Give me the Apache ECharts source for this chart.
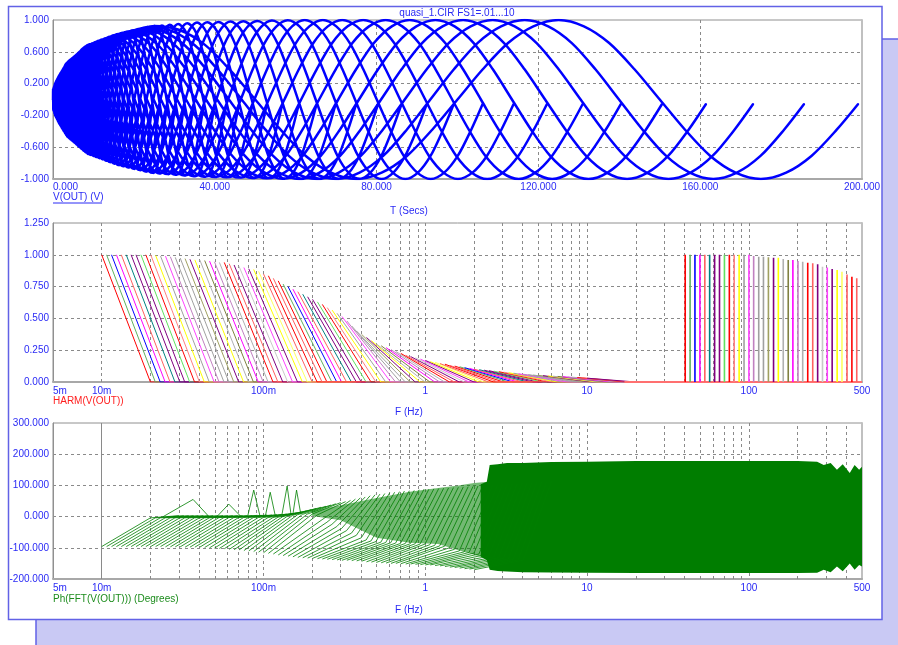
<!DOCTYPE html>
<html>
<head>
<meta charset="utf-8">
<script src="https://cdn.jsdelivr.net/npm/echarts@6/dist/echarts.min.js"></script>
<style>
  html, body { margin: 0; padding: 0; background: #fff; }
  #chart { width: 898px; height: 645px; }
</style>
</head>
<body>
<div id="chart"></div>
<script>
// FS1 stepping .01 ... 10, 33 steps per decade
const fs1Mantissa = [1.000, 1.072, 1.150, 1.233, 1.322, 1.418, 1.520, 1.630, 1.748, 1.874, 2.009,
  2.154, 2.310, 2.477, 2.656, 2.848, 3.054, 3.275, 3.511, 3.765, 4.037, 4.329, 4.642, 4.977,
  5.337, 5.722, 6.136, 6.579, 7.055, 7.565, 8.111, 8.697, 9.326];
const fs1Decades = [0.01, 0.1, 1];
const fs1Last = 10;

// top plot: one wave per step, sampled every 1/16 period, runs ~2 periods
const wavePhase = [0, 0.0625, 0.125, 0.1875, 0.25, 0.3125, 0.375, 0.4375, 0.5, 0.5625, 0.625, 0.6875,
  0.75, 0.8125, 0.875, 0.9375, 1, 1.0625, 1.125, 1.1875, 1.25, 1.3125, 1.375, 1.4375, 1.5, 1.5625,
  1.625, 1.6875, 1.75, 1.8125, 1.875, 1.9375, 1.99];
const waveShape = [0, 0.38, 0.71, 0.92, 1, 0.92, 0.71, 0.38, 0, -0.38, -0.71, -0.92, -1, -0.92, -0.71, -0.38,
  0, 0.38, 0.71, 0.92, 1, 0.92, 0.71, 0.38, 0, -0.38, -0.71, -0.92, -1, -0.92, -0.71, -0.38, -0.06];
// amplitude reached by the waves vs time (upper edge of the blue mass)
const envT = [0, 0.5, 1.5, 3.4, 8.4, 15.8, 24, 36, 60, 200];
const envA = [0.12, 0.2, 0.3, 0.46, 0.68, 0.82, 0.92, 0.97, 1, 1];

// HARM(V(OUT)): fundamental height of each step
const harmPeak = [
  1, 1, 1, 1, 1, 1, 1, 1, 1, 1,
  1, 0.995, 0.99, 0.99, 0.985, 0.98, 0.975, 0.97, 0.965, 0.96,
  0.96, 0.955, 0.95, 0.945, 0.94, 0.94, 0.93, 0.92, 0.91, 0.90,
  0.89, 0.885, 0.87, 0.85, 0.835, 0.815, 0.795, 0.77, 0.75, 0.73,
  0.71, 0.69, 0.67, 0.65, 0.63, 0.61, 0.585, 0.565, 0.54, 0.515,
  0.48, 0.44, 0.40, 0.375, 0.35, 0.325, 0.30, 0.285, 0.27, 0.255,
  0.24, 0.225, 0.21, 0.20, 0.19, 0.18, 0.17, 0.16, 0.155, 0.145,
  0.14, 0.13, 0.125, 0.12, 0.113, 0.107, 0.10, 0.097, 0.093, 0.089,
  0.085, 0.081, 0.077, 0.073, 0.069, 0.065, 0.061, 0.058, 0.055, 0.053,
  0.05, 0.048, 0.046, 0.044, 0.042, 0.04, 0.038, 0.035, 0.033, 0.03
];
const harmMultiples = [2, 3, 4];
const spikeFreq = [40.4, 43.3, 46.4, 49.8, 53.4, 57.2, 61.4, 65.8, 70.6, 75.7, 81.1, 87.0, 93.3,
  100, 107, 115, 123, 132, 142, 152, 163, 175, 187, 201, 215, 231, 248, 266, 285, 305, 327,
  351, 376, 404, 433, 464];
const spikeHeight = [1, 1, 1, 1, 1, 1, 1, 1, 1, 1, 1, 1, 1, 1, 0.99, 0.985, 0.985, 0.98,
  0.977, 0.977, 0.967, 0.959, 0.959, 0.951, 0.946, 0.938, 0.933, 0.925, 0.907, 0.901,
  0.888, 0.88, 0.867, 0.846, 0.828, 0.815];
const harmBaseF = [17, 500];

// Ph(FFT(V(OUT))): phase at f0, 2*f0, 3*f0 for the lower steps
const phaseFund = [
  -96, -96, -96, -96, -96, -96, -96, -96, -96, -96,
  -96, -96, -96, -97, -97, -97, -97, -98, -98, -98,
  -98, -99, -100, -101, -102, -103, -105, -106, -107, -109,
  -110, -112, -114, -116, -118, -120, -123, -125, -127, -129,
  -131, -132, -133, -134, -135, -136, -137, -138, -139, -140,
  -140, -141, -142, -143, -145, -146, -147, -148, -149, -150,
  -150, -151, -152, -152, -153, -154, -155, -155, -157, -158,
  -160, -162, -163, -165, -167, -168, -170
];
const phaseSecond = [
  -4, -4, -4, -4, -4, -4, -4, -4, -4, -4,
  -4, -4, -4, -3, -3, -3, -3, -3, -3, -3,
  -3, -3, -3, -3, -3, -3, -2, 0, 2, 4,
  6, 7, 8, 8, 5, -10, -18, -25, -32, -38,
  -45, -53, -60, -68, -75, -78, -80, -82, -83, -84,
  -85, -86, -86, -87, -87, -88, -88, -90, -92, -94,
  -95, -100, -105, -110, -113, -115, -117, -120, -123, -127,
  -130, -132, -134, -136, -137, -139, -140
];
const phaseThird = [
  3, 3, 3, 3, 3, 3, 3, 3, 3, 3,
  3, 3, 3, 3, 3, 3, 4, 4, 5, 5,
  6, 7, 8, 10, 12, 15, 18, 22, 26, 30,
  33, 37, 41, 45, 48, 52, 56, 60, 63, 67,
  70, 72, 74, 76, 78, 80, 82, 83, 84, 86,
  88, 88, 89, 90, 91, 92, 93, 94, 95, 96,
  97, 98, 99, 100, 101, 102, 103, 104, 105, 106,
  107, 108, 109, 110, 111, 112, 113
];
const phaseBumpF = [[0.024, 0.0367, 0.046], [0.052, 0.061, 0.072], [0.080, 0.087, 0.095],
  [0.103, 0.110, 0.118], [0.130, 0.140, 0.148], [0.152, 0.160, 0.170]];
const phaseBumpP = [[0, 55, 0], [2, 40, 2], [3, 85, 3], [5, 78, 5], [6, 98, 6], [8, 85, 8]];
// half-dense green zone between the hatching and the block
const midF = [0.2, 0.3, 0.5, 0.8, 1.2, 1.6, 2.0, 2.45];
const midTop = [18, 36, 60, 80, 92, 100, 108, 112];
const midBot = [2, -12, -68, -84, -88, -108, -122, -135];
// solid green block of the higher steps
const blockF = [2.2, 2.4, 2.5, 2.8, 3.2, 4, 6, 10, 20, 50, 100, 200, 264, 290, 320, 350, 380, 420, 450, 480, 500];
const blockTop = [104, 112, 165, 168, 172, 172, 175, 176, 178, 178, 178, 178, 176, 165, 172, 150, 168, 140, 165, 150, 160];
const blockBot = [-128, -140, -170, -174, -176, -178, -179, -180, -181, -181, -181, -181, -180, -170, -178, -160, -175, -150, -170, -155, -160];

// ticks
const voltTicks = [-1, -0.6, -0.2, 0.2, 0.6, 1];
const voltGrid = [-0.6, -0.2, 0.2, 0.6];
const freqTickValues = [0.005, 0.01, 0.1, 1, 10, 100, 500];
const freqTickLabels = ['5m', '10m', '100m', '1', '10', '100', '500'];
const logMinorTicks = [0.006, 0.007, 0.008, 0.009,
  0.02, 0.03, 0.04, 0.05, 0.06, 0.07, 0.08, 0.09,
  0.2, 0.3, 0.4, 0.5, 0.6, 0.7, 0.8, 0.9,
  2, 3, 4, 5, 6, 7, 8, 9,
  20, 30, 40, 50, 60, 70, 80, 90,
  200, 300, 400];

const stepColors = ['#ff0000', '#60b060', '#0000ff', '#ff00ff', '#ff6060', '#008080', '#800080', '#800080',
  '#60e060', '#ff0000', '#ff8080', '#ffff00', '#a0a0a0', '#ff40ff', '#c080c0', '#a0a0a0', '#a0a0a0',
  '#a0a060', '#800080', '#ffff00', '#b0b0b0', '#808040', '#ff00ff', '#c080c0', '#b0b0b0', '#ff0000',
  '#ff6060', '#800080', '#c8c8c8', '#ff40ff', '#800080', '#ffff00', '#ffff60', '#ff6060', '#ff0000', '#ff6060'];

const FONT = '"Liberation Sans", Arial, sans-serif';
const LABEL = '#2a2af5';
const GRID = '#8a8a8a';

const stepFreq = [];
fs1Decades.forEach((d) => fs1Mantissa.forEach((m) => stepFreq.push(d * m)));
stepFreq.push(fs1Last);

function lookup(xs, ys, x) {
  for (let i = 1; i < xs.length; i++) {
    if (x <= xs[i]) {
      const u = (x - xs[i - 1]) / (xs[i] - xs[i - 1]);
      return ys[i - 1] + u * (ys[i] - ys[i - 1]);
    }
  }
  return ys[ys.length - 1];
}

// --- series data ---
const waveData = [];
stepFreq.forEach((f) => {
  const period = 1 / f;
  wavePhase.forEach((ph, i) => {
    const t = ph * period;
    waveData.push([t, waveShape[i] * lookup(envT, envA, t)]);
  });
  waveData.push([0, '-']);
});

const harmByColor = stepColors.map(() => []);
stepFreq.forEach((f, k) => {
  const d = harmByColor[k % stepColors.length];
  d.push([f, harmPeak[k]]);
  harmMultiples.forEach((m) => d.push([f * m, 0]));
  d.push([f, '-']);
});
const spikeByColor = stepColors.map(() => []);
spikeFreq.forEach((f, s) => {
  const d = spikeByColor[s % stepColors.length];
  d.push([f, 0], [f, spikeHeight[s]], [f, '-']);
});

const phaseData = [];
phaseFund.forEach((a, k) => {
  const f = stepFreq[k];
  phaseData.push([f, a], [2 * f, phaseSecond[k]], [3 * f, phaseThird[k]], [f, '-']);
});
const bumpData = [];
phaseBumpF.forEach((fs, i) => {
  fs.forEach((f, j) => bumpData.push([f, phaseBumpP[i][j]]));
  bumpData.push([fs[0], '-']);
});

function freqLabel(v) {
  for (let i = 0; i < freqTickValues.length; i++) {
    if (Math.abs(Math.log10(v) - Math.log10(freqTickValues[i])) < 0.01) return freqTickLabels[i];
  }
  return '';
}

const axisLabelBase = { color: LABEL, fontSize: 10, fontFamily: FONT, hideOverlap: false };
const dashed = { color: GRID, type: [3, 3], width: 1 };

function xLog(gridIndex) {
  return {
    type: 'log', logBase: 10, gridIndex, min: 0.005, max: 500, splitNumber: 5,
    axisLine: { show: true, onZero: false, lineStyle: { color: '#a8a8a8', width: 2 } },
    axisTick: { show: false },
    axisLabel: Object.assign({}, axisLabelBase, {
      margin: 4, customValues: freqTickValues, formatter: freqLabel,
      alignMinLabel: 'left', showMinLabel: true, showMaxLabel: true
    }),
    splitLine: { show: true, showMinLine: false, showMaxLine: false, lineStyle: dashed }
  };
}
function yLeft(gridIndex, min, max, extra) {
  return Object.assign({
    type: 'value', gridIndex, min, max, position: 'left',
    axisLine: { show: true, onZero: false, lineStyle: { color: '#909090', width: 1 } },
    axisTick: { show: false },
    axisLabel: Object.assign({}, axisLabelBase, { margin: 4, formatter: (v) => v.toFixed(3) }),
    splitLine: { show: true, showMinLine: false, showMaxLine: false, lineStyle: dashed }
  }, extra || {});
}
function yRight(gridIndex, min, max) {
  return {
    type: 'value', gridIndex, min, max, position: 'right',
    axisLine: { show: true, onZero: false, lineStyle: { color: '#c0c0c0', width: 2 } },
    axisTick: { show: false }, axisLabel: { show: false }, splitLine: { show: false }
  };
}
function gridLines(xAxisIndex, yAxisIndex, key, values) {
  return {
    type: 'line', xAxisIndex, yAxisIndex, data: [], silent: true, z: 1,
    markLine: {
      silent: true, symbol: 'none', z: 1, animation: false,
      label: { show: false },
      emphasis: { disabled: true },
      lineStyle: dashed,
      data: values.map((v) => ({ [key]: v }))
    }
  };
}
function band(xs, tops, bots, color, opacity, z) {
  return {
    type: 'custom', xAxisIndex: 2, yAxisIndex: 4, coordinateSystem: 'cartesian2d', silent: true, z,
    data: [[xs[0], 0]],
    renderItem: (params, api) => {
      const top = xs.map((f, i) => api.coord([f, tops[i]]));
      const bot = xs.map((f, i) => api.coord([f, bots[i]])).reverse();
      return { type: 'polygon', shape: { points: top.concat(bot) }, style: { fill: color, opacity } };
    }
  };
}

const series = [
  gridLines(0, 0, 'yAxis', voltGrid),
  gridLines(1, 2, 'xAxis', logMinorTicks),
  gridLines(2, 4, 'xAxis', logMinorTicks),
  {
    type: 'line', xAxisIndex: 0, yAxisIndex: 0, data: waveData, smooth: 0.3,
    showSymbol: false, silent: true, connectNulls: false,
    lineStyle: { color: '#0000ff', width: 2.5, join: 'round', cap: 'round' }
  }
];
stepColors.forEach((c, i) => {
  series.push({
    type: 'line', xAxisIndex: 1, yAxisIndex: 2, data: harmByColor[i], showSymbol: false, silent: true,
    lineStyle: { color: c, width: 1 }
  });
});
series.push({
  type: 'line', xAxisIndex: 1, yAxisIndex: 2, data: harmBaseF.map((f) => [f, 0]), showSymbol: false, silent: true,
  lineStyle: { color: '#ff7070', width: 2 }
});
stepColors.forEach((c, i) => {
  if (!spikeByColor[i].length) return;
  series.push({
    type: 'line', xAxisIndex: 1, yAxisIndex: 2, data: spikeByColor[i], showSymbol: false, silent: true,
    lineStyle: { color: c, width: 1.6 }
  });
});
series.push(band(midF, midTop, midBot, '#008000', 0.55, 2));
series.push({
  type: 'line', xAxisIndex: 2, yAxisIndex: 4, data: phaseData, showSymbol: false, silent: true,
  lineStyle: { color: '#008000', width: 1, opacity: 0.8 }
});
series.push({
  type: 'line', xAxisIndex: 2, yAxisIndex: 4, data: bumpData, showSymbol: false, silent: true,
  lineStyle: { color: '#008000', width: 1, opacity: 0.8 }
});
series.push(band(blockF, blockTop, blockBot, '#007d00', 1, 3));

function txt(text, x, y, color, align) {
  return {
    type: 'text', z: 50, silent: true,
    style: {
      text, x, y, fill: color, font: '10px ' + FONT,
      align: align, textAlign: align, verticalAlign: 'middle', textVerticalAlign: 'middle'
    }
  };
}

const gridBase = { left: 53, width: 809, show: true, borderColor: '#909090', borderWidth: 1, backgroundColor: 'transparent', containLabel: false };

const option = {
  animation: false,
  backgroundColor: '#ffffff',
  grid: [
    Object.assign({ top: 20, height: 159 }, gridBase),
    Object.assign({ top: 223, height: 159 }, gridBase),
    Object.assign({ top: 423, height: 156 }, gridBase)
  ],
  xAxis: [
    {
      type: 'value', gridIndex: 0, min: 0, max: 200, interval: 40,
      axisLine: { show: true, onZero: false, lineStyle: { color: '#a8a8a8', width: 2 } },
      axisTick: { show: false },
      axisLabel: Object.assign({}, axisLabelBase, {
        margin: 3, formatter: (v) => v.toFixed(3), alignMinLabel: 'left', showMinLabel: true, showMaxLabel: true
      }),
      splitLine: { show: true, showMinLine: false, showMaxLine: false, lineStyle: dashed }
    },
    xLog(1),
    xLog(2)
  ],
  yAxis: [
    yLeft(0, -1, 1, {
      axisLabel: Object.assign({}, axisLabelBase, { margin: 4, customValues: voltTicks, formatter: (v) => v.toFixed(3) }),
      splitLine: { show: false }
    }),
    yRight(0, -1, 1),
    yLeft(1, 0, 1.25, { interval: 0.25 }),
    yRight(1, 0, 1.25),
    yLeft(2, -200, 300, { interval: 100 }),
    yRight(2, -200, 300)
  ],
  graphic: [
    { type: 'rect', z: -10, silent: true, shape: { x: 36, y: 39, width: 900, height: 700 },
      style: { fill: '#c9c9f4', stroke: '#6262e6', lineWidth: 1.5 } },
    { type: 'rect', z: -9, silent: true, shape: { x: 8.5, y: 6.5, width: 873.5, height: 613 },
      style: { fill: '#ffffff', stroke: '#6262e6', lineWidth: 1.5 } },
    txt('quasi_1.CIR FS1=.01...10', 457, 13, LABEL, 'center'),
    txt('V(OUT) (V)', 53, 197, LABEL, 'left'),
    { type: 'line', z: 50, silent: true, shape: { x1: 53, y1: 203, x2: 102, y2: 203 }, style: { stroke: LABEL, lineWidth: 1 } },
    txt('T (Secs)', 409, 211, LABEL, 'center'),
    txt('HARM(V(OUT))', 53, 401, '#ff2020', 'left'),
    txt('F (Hz)', 409, 412, LABEL, 'center'),
    txt('Ph(FFT(V(OUT))) (Degrees)', 53, 599, '#1c8c1c', 'left'),
    txt('F (Hz)', 409, 610, LABEL, 'center')
  ],
  series
};

const chart = echarts.init(document.getElementById('chart'), null, { renderer: 'canvas' });
chart.setOption(option);
</script>
</body>
</html>
